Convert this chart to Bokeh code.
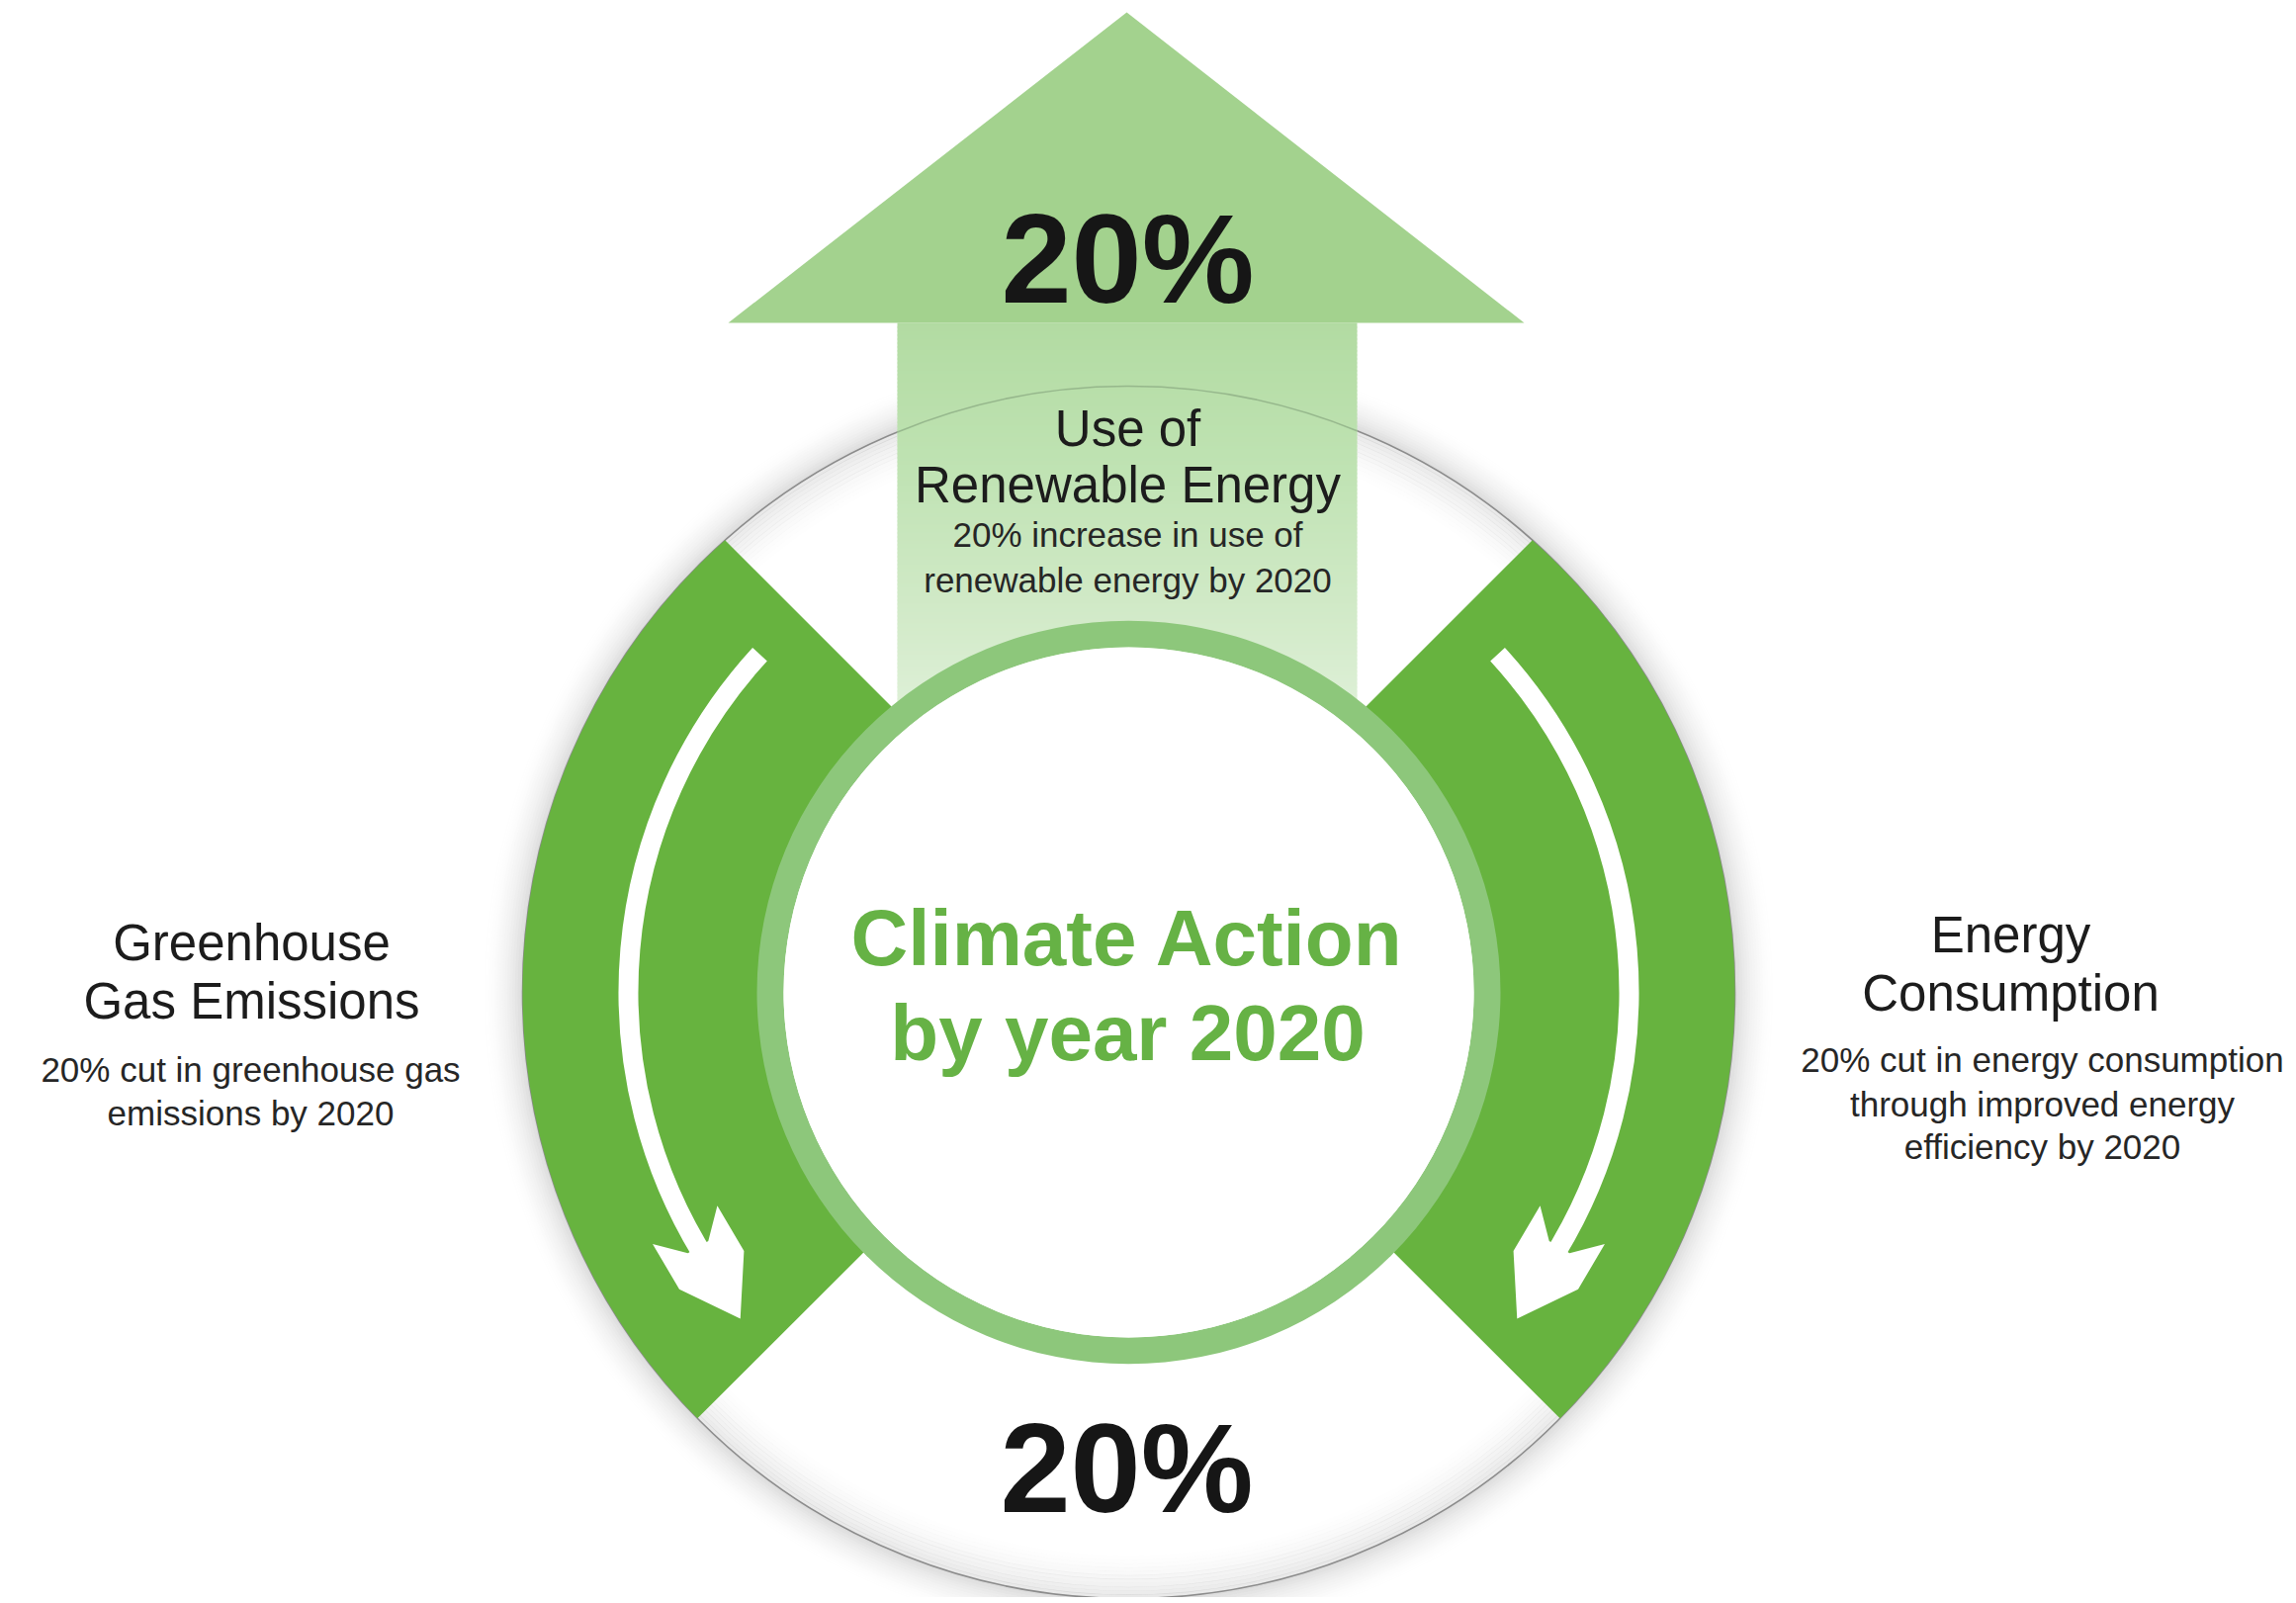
import numpy as np
from bokeh.plotting import figure
from bokeh.models import Range1d, ColumnDataSource
from bokeh.core.properties import value
from bokeh.embed import file_html
from bokeh.resources import INLINE

# ---------------- data (content of the infographic) ----------------
goal_titles = [["Use of", "Renewable Energy"],
               ["Greenhouse", "Gas Emissions"],
               ["Energy", "Consumption"]]
goal_notes = [["20% increase in use of", "renewable energy by 2020"],
              ["20% cut in greenhouse gas", "emissions by 2020"],
              ["20% cut in energy consumption", "through improved energy", "efficiency by 2020"]]
goal_targets = [20, 20, 20]          # percent: renewables up, emissions down, consumption down
centre_title = ["Climate Action", "by year 2020"]

# ---------------- layout (page pixel coordinates) ----------------
W, H = 2322, 1621
FW, FH = 2316, 1615
def Y(py):
    return H - py

CX, CYP = 1141, 1003
CY = Y(CYP)
R_OUT = 613
R_RING_OUT, R_RING_IN = 376, 349
R_ARROW = 506

GREEN = "#67b33f"
RING = "#8dc77b"
HEAD = "#a3d28e"
TXT_GREEN = "#66b245"

p = figure(width=FW, height=FH, x_range=Range1d(0, FW), y_range=Range1d(H - FH, H),
           output_backend="svg", toolbar_location=None, min_border=0)
p.axis.visible = False
p.grid.visible = False
p.outline_line_color = None
p.background_fill_color = "white"
p.border_fill_color = "white"

# soft drop shadow around the big disc
N = 16
for i in range(N):
    p.annulus(x=CX, y=CY, inner_radius=R_OUT + i * 2.6, outer_radius=R_OUT + (i + 1) * 2.6,
              fill_color="#7d7d7d", fill_alpha=0.26 * (1 - i / N) ** 2, line_color=None)

# white disc
p.circle(x=CX, y=CY, radius=R_OUT, fill_color="white", line_color=None)
# inner shading near the rim
M = 14
for i in range(M):
    r0 = R_OUT - 55 + i * 55 / M
    p.annulus(x=CX, y=CY, inner_radius=r0, outer_radius=r0 + 55 / M + 0.5,
              fill_color="#8a8a8a", fill_alpha=0.016 * i * (i / M), line_color=None)
p.circle(x=CX, y=CY, radius=R_OUT, fill_color=None, line_color="#8c8c8c", line_width=1.6)

# green side bands (lifebuoy segments), bounded by 45-degree straight edges
def band(side):
    ang = np.radians(np.arange(90, 270.001, 0.04)) if side < 0 else np.radians(np.arange(-90, 90.001, 0.04))
    xs, ys = [], []
    for r, order in ((R_OUT, 1), (365, -1)):
        dx = r * np.cos(ang)
        dyp = -r * np.sin(ang)
        mx = dx if side < 0 else -dx
        keep = (mx - dyp < 49) & (mx + dyp < -5)
        px = (CX + dx[keep])[::order]
        py = (CYP + dyp[keep])[::order]
        xs.extend(px.tolist())
        ys.extend([Y(v) for v in py])
    return xs, ys

for s in (-1, 1):
    bx, by = band(s)
    p.patch(bx, by, fill_color=GREEN, line_color=None)

# big up arrow: shaft fading downwards (opaque stripes), solid head
SH_L, SH_R, SH_TOP, SH_BOT = 907, 1372, 326, 745
stops_y = [326, 460, 640, 745]
stops_c = [(178, 219, 162), (190, 226, 177), (212, 235, 203), (226, 242, 220)]
step = 4
tops = np.arange(SH_TOP, SH_BOT, step)
cols = []
for t in tops:
    ch = [int(round(np.interp(t + step / 2, stops_y, [c[k] for c in stops_c]))) for k in range(3)]
    cols.append("#%02x%02x%02x" % tuple(ch))
p.quad(left=[SH_L] * len(tops), right=[SH_R] * len(tops),
       top=[Y(t) for t in tops], bottom=[Y(min(t + step + 1, SH_BOT)) for t in tops],
       fill_color=cols, line_color=None)
# rim line seen through the translucent shaft
a_l = np.degrees(np.arccos((SH_L - CX) / R_OUT))
a_r = np.degrees(np.arccos((SH_R - CX) / R_OUT))
p.arc(x=CX, y=CY, radius=R_OUT, start_angle=np.radians(a_r), end_angle=np.radians(a_l),
      direction="anticlock", line_color="#7f9c78", line_alpha=0.6, line_width=1.6)
p.patch([1139, 1541, 736], [Y(12), Y(326), Y(326)], fill_color=HEAD, line_color=None)

# inner ring and white centre
p.annulus(x=CX, y=CY, inner_radius=R_RING_IN, outer_radius=R_RING_OUT, fill_color=RING, line_color=None)
p.circle(x=CX, y=CY, radius=R_RING_IN, fill_color="white", line_color=None)

# white curved arrows on the bands
head_local = [(84, 0), (27, 38), (-26, 38), (0, 12), (0, -12), (-26, -38), (27, -38)]
def white_arrow(start_deg, base_deg, ccw):
    a0, a1 = np.radians(start_deg), np.radians(base_deg)
    if ccw:
        p.arc(x=CX, y=CY, radius=R_ARROW, start_angle=a0, end_angle=a1 + np.radians(2),
              direction="anticlock", line_color="white", line_width=20, line_cap="butt")
        u = np.array([-np.sin(a1), np.cos(a1)])
    else:
        p.arc(x=CX, y=CY, radius=R_ARROW, start_angle=a1 - np.radians(2), end_angle=a0,
              direction="anticlock", line_color="white", line_width=20, line_cap="butt")
        u = np.array([np.sin(a1), -np.cos(a1)])
    v = np.array([-u[1], u[0]])
    bx, by = CX + R_ARROW * np.cos(a1), CY + R_ARROW * np.sin(a1)
    hx = [bx + a * u[0] + b * v[0] for a, b in head_local]
    hy = [by + a * u[1] + b * v[1] for a, b in head_local]
    p.patch(hx, hy, fill_color="white", line_color=None)

white_arrow(137.5, 210.6, True)
white_arrow(42.5, -30.6, False)

# ---------------- texts ----------------
FONT = value("Liberation Sans")
def texts(xs, ys, labels, size, color, bold=False):
    src = ColumnDataSource(dict(x=xs, y=[Y(v) for v in ys], t=labels))
    p.text(x="x", y="y", text="t", source=src, text_font=FONT, text_font_size=size,
           text_color=color, text_align="center", text_baseline="middle",
           text_font_style="bold" if bold else "normal")

big = [f"{goal_targets[0]}%", f"{goal_targets[1]}%"]
texts([1140, 1139], [261, 1484], big, "128px", "#161616", bold=True)

title_pos = [(1140, [433, 490]), (254, [953, 1012]), (2033, [945, 1004])]
note_pos = [(1140, [540, 586]), (253, [1081, 1125]), (2065, [1071, 1116, 1159])]
tx, ty, tl = [], [], []
for (x, ys), lines in zip(title_pos, goal_titles):
    for yy, ln in zip(ys, lines):
        tx.append(x); ty.append(yy); tl.append(ln)
texts(tx, ty, tl, "51px", "#1c1c1c")
nx, ny, nl = [], [], []
for (x, ys), lines in zip(note_pos, goal_notes):
    for yy, ln in zip(ys, lines):
        nx.append(x); ny.append(yy); nl.append(ln)
texts(nx, ny, nl, "35px", "#262626")

texts([1140, 1140], [948, 1044], centre_title, "80px", TXT_GREEN, bold=True)

open("out.html", "w").write(file_html(p, INLINE))
